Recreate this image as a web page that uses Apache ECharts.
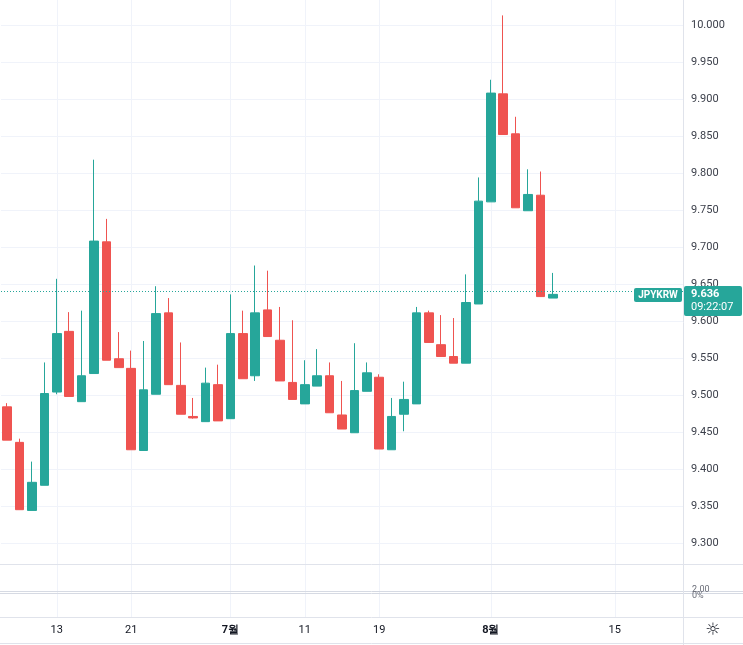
<!DOCTYPE html>
<html>
<head>
<meta charset="utf-8">
<title>JPYKRW</title>
<script src="https://cdn.jsdelivr.net/npm/echarts@6/dist/echarts.min.js"></script>
<style>
  html, body { margin: 0; padding: 0; background: #fff; }
  #chart { width: 743px; height: 645px; }
</style>
</head>
<body>
<div id="chart"></div>
<script>
// trading days (weekdays), the last ones are still empty
const dates = [
  "06-07", "06-08", "06-09", "06-10",
  "06-13", "06-14", "06-15", "06-16", "06-17",
  "06-20", "06-21", "06-22", "06-23", "06-24",
  "06-27", "06-28", "06-29", "06-30", "07-01",
  "07-04", "07-05", "07-06", "07-07", "07-08",
  "07-11", "07-12", "07-13", "07-14", "07-15",
  "07-18", "07-19", "07-20", "07-21", "07-22",
  "07-25", "07-26", "07-27", "07-28", "07-29",
  "08-01", "08-02", "08-03", "08-04", "08-05",
  "08-08", "08-09", "08-10", "08-11", "08-12",
  "08-15", "08-16", "08-17", "08-18", "08-19",
  "08-22"
];

const opens = [
  9.484, 9.436, 9.344, 9.378, 9.504, 9.586, 9.491, 9.529, 9.707, 9.549,
  9.536, 9.425, 9.501, 9.611, 9.513, 9.471, 9.464, 9.514, 9.468, 9.583,
  9.526, 9.615, 9.574, 9.517, 9.488, 9.512, 9.526, 9.473, 9.449, 9.505,
  9.524, 9.426, 9.474, 9.488, 9.611, 9.568, 9.552, 9.543, 9.623, 9.761,
  9.907, 9.853, 9.749, 9.770, 9.631
];
const closes = [
  9.439, 9.345, 9.382, 9.502, 9.583, 9.498, 9.526, 9.708, 9.547, 9.537,
  9.426, 9.507, 9.610, 9.514, 9.474, 9.469, 9.516, 9.465, 9.583, 9.522,
  9.611, 9.579, 9.519, 9.494, 9.514, 9.526, 9.476, 9.454, 9.506, 9.530,
  9.427, 9.471, 9.494, 9.611, 9.571, 9.552, 9.543, 9.625, 9.762, 9.908,
  9.852, 9.753, 9.771, 9.633, 9.636
];
const highs = [
  9.489, 9.441, 9.410, 9.544, 9.657, 9.612, 9.614, 9.818, 9.738, 9.585,
  9.560, 9.573, 9.647, 9.631, 9.571, 9.496, 9.537, 9.541, 9.636, 9.614,
  9.675, 9.668, 9.619, 9.601, 9.547, 9.562, 9.544, 9.519, 9.570, 9.544,
  9.528, 9.496, 9.518, 9.619, 9.614, 9.608, 9.604, 9.663, 9.794, 9.926,
  10.013, 9.876, 9.805, 9.802, 9.665
];
const lows = [
  9.439, 9.345, 9.344, 9.378, 9.501, 9.498, 9.491, 9.529, 9.547, 9.537,
  9.426, 9.425, 9.501, 9.514, 9.474, 9.468, 9.464, 9.465, 9.468, 9.522,
  9.519, 9.579, 9.519, 9.494, 9.488, 9.512, 9.476, 9.454, 9.449, 9.505,
  9.427, 9.426, 9.451, 9.488, 9.571, 9.552, 9.543, 9.543, 9.623, 9.761,
  9.852, 9.753, 9.749, 9.633, 9.631
];

// time axis labels
const tickDates = ["06-13", "06-21", "07-01", "07-11", "07-19", "08-01", "08-15"];
const tickTexts = ["13", "21", "7월", "11", "19", "8월", "15"];

const symbol = "JPYKRW";
const lastTime = "09:22:07";
const lastClose = closes[closes.length - 1];

const UP = "#26a69a";
const DOWN = "#ef5350";
const GRID = "#f0f3fa";
const BORDER = "#e0e3eb";
const FONT = "Roboto";

const isTick = (i) => tickDates.indexOf(dates[i]) >= 0;

const myChart = echarts.init(document.getElementById("chart"));

const candles = opens.map((o, i) => [o, closes[i], lows[i], highs[i]]);

function hline(y, color) {
  return { type: "line", silent: true, z: 10,
    shape: { x1: 0, y1: y, x2: 743, y2: y },
    style: { stroke: color, lineWidth: 1 } };
}

let option = {
  animation: false,
  backgroundColor: "#fff",
  textStyle: { fontFamily: FONT },
  grid: [
    { left: 1, right: 60, top: 0, bottom: 65 },
    { left: 1, right: 60, top: 565, bottom: 28 }
  ],
  xAxis: [
    {
      type: "category",
      gridIndex: 0,
      data: dates,
      boundaryGap: true,
      axisLine: { show: false },
      axisTick: { show: false },
      axisLabel: { show: false },
      splitLine: {
        show: true,
        alignWithLabel: true,
        interval: (i) => isTick(i),
        lineStyle: { color: GRID, width: 1 }
      }
    },
    {
      type: "category",
      gridIndex: 1,
      data: dates,
      boundaryGap: true,
      axisLine: { show: false },
      axisTick: { show: false },
      axisLabel: {
        interval: (i) => isTick(i),
        margin: 8,
        fontSize: 11,
        fontFamily: FONT,
        color: "#131722",
        formatter: (v) => {
          const t = tickTexts[tickDates.indexOf(v)];
          return t.indexOf("월") >= 0 ? "{m|" + t + "}" : t;
        },
        rich: { m: { fontWeight: "bold", fontSize: 11, fontFamily: FONT, color: "#131722" } }
      },
      splitLine: {
        show: true,
        alignWithLabel: true,
        interval: (i) => isTick(i),
        lineStyle: { color: GRID, width: 1 }
      }
    }
  ],
  yAxis: [
    {
      type: "value",
      gridIndex: 0,
      position: "right",
      min: 9.25,
      max: 10.0338,
      interval: 0.05,
      axisLine: { show: false },
      axisTick: { show: false },
      axisLabel: {
        margin: 8,
        fontSize: 11,
        fontFamily: FONT,
        color: "#3b3f4a",
        formatter: (v) => (v < 9.29 || v > 10.001) ? "" : v.toFixed(3)
      },
      splitLine: {
        show: true,
        showMinLine: false,
        showMaxLine: false,
        lineStyle: { color: GRID, width: 1 }
      }
    },
    {
      type: "value",
      gridIndex: 1,
      position: "right",
      min: 0,
      max: 1,
      show: false
    }
  ],
  series: [
    {
      name: symbol,
      type: "candlestick",
      xAxisIndex: 0,
      yAxisIndex: 0,
      barWidth: 9,
      data: candles,
      itemStyle: {
        color: UP,
        color0: DOWN,
        borderColor: UP,
        borderColor0: DOWN,
        borderWidth: 1
      },
      markLine: {
        silent: true,
        symbol: ["none", "none"],
        label: { show: false },
        lineStyle: { color: UP, type: [1, 2], width: 1 },
        data: [{ yAxis: lastClose }]
      }
    }
  ],
  graphic: [
    hline(564.5, BORDER),
    hline(591.5, "#d6dae3"),
    hline(593.5, "#d6dae3"),
    hline(617.5, BORDER),
    hline(643.5, BORDER),
    { type: "line", silent: true, z: 10,
      shape: { x1: 683.5, y1: 0, x2: 683.5, y2: 645 },
      style: { stroke: BORDER, lineWidth: 1 } },
    { type: "text", silent: true, z: 11, x: 692, y: 590,
      style: { text: "2.00", fill: "#6a6d78", fontSize: 9, fontFamily: FONT, verticalAlign: "middle" } },
    { type: "text", silent: true, z: 11, x: 692, y: 596,
      style: { text: "0%", fill: "#6a6d78", fontSize: 9, fontFamily: FONT, verticalAlign: "middle" } },
    { type: "text", silent: true, z: 11, x: 713, y: 631,
      style: { text: "☼", fill: "#131722", fontSize: 17, fontFamily: "DejaVu Sans", align: "center", verticalAlign: "middle" } }
  ]
};

myChart.setOption(option);

// last price tags placed from the axis scale
const py = Math.round(myChart.convertToPixel({ yAxisIndex: 0 }, lastClose));
myChart.setOption({
  graphic: [
    { type: "rect", id: "symTag", silent: true, z: 20,
      shape: { x: 634, y: py - 6, width: 48, height: 14, r: 2 },
      style: { fill: UP } },
    { type: "text", id: "symText", silent: true, z: 21, x: 658, y: py + 1,
      style: { text: symbol, fill: "#fff", fontSize: 10, fontWeight: "bold", fontFamily: FONT,
               align: "center", verticalAlign: "middle" } },
    { type: "rect", id: "priceTag", silent: true, z: 20,
      shape: { x: 684, y: py - 8, width: 58, height: 30, r: 2 },
      style: { fill: UP } },
    { type: "text", id: "priceText", silent: true, z: 21, x: 691, y: py,
      style: { text: lastClose.toFixed(3), fill: "#fff", fontSize: 11, fontWeight: "bold", fontFamily: FONT,
               verticalAlign: "middle" } },
    { type: "text", id: "timeText", silent: true, z: 21, x: 691, y: py + 13,
      style: { text: lastTime, fill: "#fff", fontSize: 11, fontFamily: FONT, verticalAlign: "middle" } }
  ]
});
</script>
</body>
</html>
